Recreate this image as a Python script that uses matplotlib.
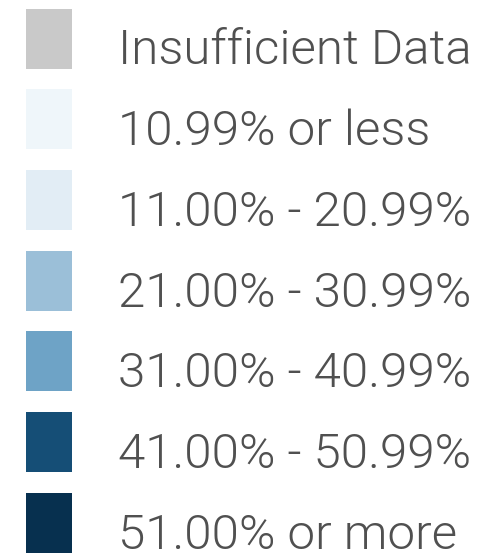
import matplotlib
matplotlib.use("Agg")
import matplotlib.pyplot as plt
from matplotlib.patches import Rectangle

labels = ["Insufficient Data", "10.99% or less", "11.00% - 20.99%",
          "21.00% - 30.99%", "31.00% - 40.99%", "41.00% - 50.99%",
          "51.00% or more"]
colors = ["#c9c9c9", "#eff6fa", "#e2edf5", "#9bbfd8", "#6ea3c6",
          "#154e76", "#07304f"]

W, H = 483, 556
fig = plt.figure(figsize=(W / 100, H / 100), dpi=100)
ax = fig.add_axes([0, 0, 1, 1])
ax.set_xlim(0, W)
ax.set_ylim(H, 0)
ax.axis("off")

top0, step = 8.5, 80.7
sq_x, sq_w, sq_h = 26, 46, 60
for i, (lab, col) in enumerate(zip(labels, colors)):
    y = top0 + i * step
    ax.add_patch(Rectangle((sq_x, y), sq_w, sq_h, facecolor=col, edgecolor="none"))
    ax.text(118, y + 56, lab, fontsize=35.5, family="Roboto", fontweight=300,
            color="#505050", va="baseline", ha="left")

fig.savefig("out.png", dpi=100)
